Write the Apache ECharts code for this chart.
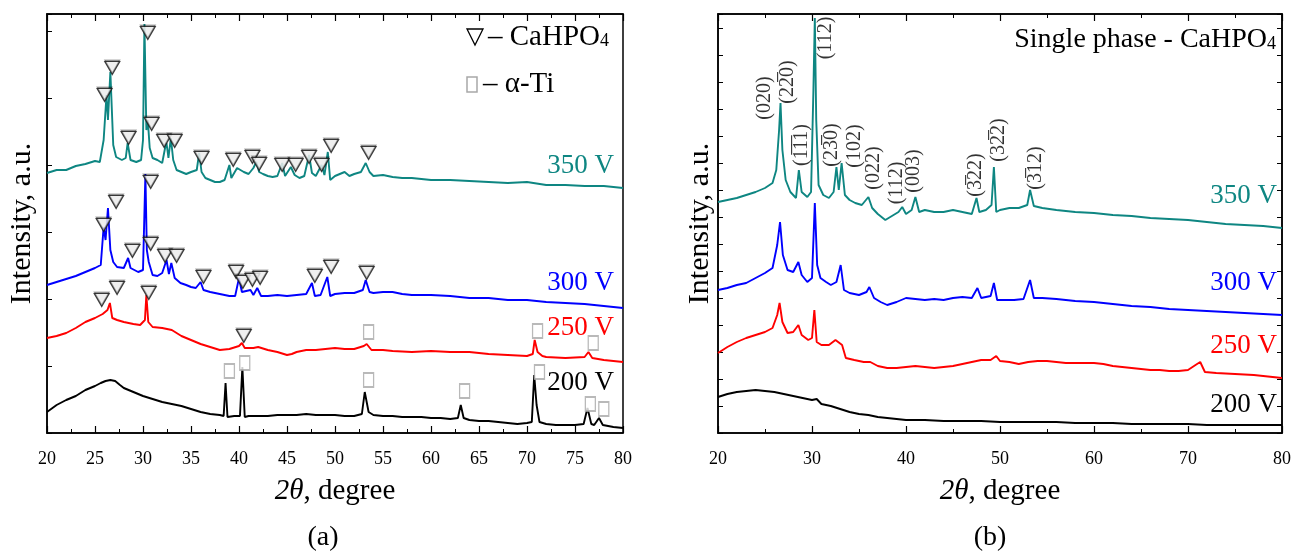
<!DOCTYPE html>
<html><head><meta charset="utf-8">
<script src="https://cdn.jsdelivr.net/npm/echarts@6/dist/echarts.min.js"></script>
<style>html,body{margin:0;padding:0;background:#fff}#c{width:1299px;height:553px}</style>
</head><body><div id="c"></div><script>
// ---------- Panel (a) : XRD patterns, [2theta, intensity (offset, a.u.)] ----------
var a350 = [[20,260],[21,263],[22,263],[23,267],[24,269],[25,272],[25.5,271],[25.9,293],[26.2,338],[26.35,313],[26.6,361],[26.9,288],[27.2,276],[27.8,273],[28.2,275],[28.4,290],[28.7,273],[29.3,271],[29.8,273],[30.0,293],[30.15,409],[30.35,303],[30.5,313],[30.7,285],[31.0,275],[31.5,273],[32.0,270],[32.3,285],[32.45,290],[32.65,275],[32.9,295],[33.15,273],[33.5,263],[34,261],[34.5,259],[35,261],[35.6,263],[35.85,280],[36.1,261],[36.5,255],[37,253],[37.5,251],[38,251],[38.5,253],[39.0,268],[39.2,255],[39.8,265],[40,263],[40.5,261],[41,259],[41.5,265],[41.8,271],[42.1,261],[42.5,259],[43,257],[43.5,256],[44,257],[44.5,270],[44.8,257],[45.4,266],[45.8,258],[46.3,255],[46.8,257],[47.3,278],[47.6,260],[48,257],[48.6,268],[48.9,258],[49.25,281],[49.5,253],[50,257],[50.5,259],[51,261],[51.5,257],[52,259],[52.7,261],[53.2,270],[53.6,261],[54,257],[55,258],[56,256],[57,255],[58,255],[59,254],[60,253],[62,253],[64,252],[66,251],[68,250],[70,251],[72,248],[74,248],[76,247],[78,247],[80,245]];
var a300 = [[20,148],[21,151],[22,154],[23,157],[24,161],[25,165],[25.6,168],[25.9,206],[26.1,193],[26.35,225],[26.6,183],[26.9,171],[27.3,166],[28,165],[28.45,175],[28.7,165],[29.5,161],[30.0,163],[30.25,259],[30.4,183],[30.6,171],[31.0,158],[31.5,157],[32.0,160],[32.45,173],[32.7,159],[32.95,170],[33.3,155],[33.9,150],[34.5,148],[35,146],[35.5,145],[36.0,151],[36.3,143],[37,141],[38,139],[39,137],[39.6,137],[40.0,155],[40.3,141],[41.2,143],[41.5,138],[41.9,145],[42.3,137],[43,137],[44,138],[45,137],[46,138],[47,139],[47.6,150],[47.9,137],[48.5,138],[49.2,156],[49.5,137],[50,139],[51,140],[52,140],[52.9,143],[53.2,153],[53.6,141],[54,140],[55,141],[56,141],[57,139],[58,138],[60,138],[62,137],[64,135],[66,135],[68,133],[70,133],[72,131],[74,130],[76,129],[78,127],[80,125]];
var a250 = [[20,95],[21,97],[22,100],[23,105],[24,111],[25,115],[25.8,119],[26.3,123],[26.55,130],[26.8,115],[27.3,113],[28,111],[29,109],[29.7,108],[30.2,113],[30.35,138],[30.55,111],[31,106],[32,105],[33,103],[34,97],[35,93],[36,89],[37,86],[38,83],[39,84],[40.0,87],[40.3,90],[40.6,85],[41.5,85],[42,86],[43,83],[44,81],[45,78],[45.5,79],[46,81],[47,83],[48,83],[49,84],[50,85],[51,84],[52,84],[53,87],[53.3,89],[53.8,83],[55,83],[56,82],[58,81],[60,82],[62,81],[64,81],[66,79],[68,78],[70,77],[70.6,79],[70.8,93],[71.1,81],[71.6,77],[72,76],[74,75],[76,76],[76.4,81],[76.8,75],[78,73],[80,71]];
var a200 = [[20,21],[21,28],[22,33],[23,37],[24,43],[25,47],[25.6,50],[26.1,52],[26.6,53],[27.1,52],[27.6,48],[28,45],[29,41],[30,37],[31,34],[32,31],[33,29],[34,27],[35,24],[36,21],[37,19],[38,18],[38.4,17],[38.6,50],[38.8,16],[39.5,17],[40.1,17],[40.35,66],[40.6,16],[41,17],[42,17],[43,17],[44,18],[45,18],[46,18],[47,19],[48,18],[49,18],[50,18],[51,17],[52,17],[52.8,19],[53.1,41],[53.5,21],[54,18],[55,17],[56,17],[57,16],[58,16],[59,16],[60,15],[61,15],[62,14],[62.8,15],[63.1,28],[63.4,15],[64,13],[65,12],[66,12],[67,11],[68,10],[69,9],[70,10],[70.5,11],[70.75,58],[71.0,28],[71.3,11],[72,9],[73,8],[74,8],[75,8],[75.9,9],[76.3,25],[76.7,9],[77.0,8],[77.5,15],[77.9,8],[79,6],[80,5]];
// phase markers in panel (a)
var triCaHPO4 = [[26.0,338],[26.8,365],[30.5,400],[28.5,295],[30.9,309],[32.2,292],[33.3,292],[36.1,275],[39.4,273],[41.4,276],[42.1,269],[44.5,268],[45.9,268],[47.3,276],[48.6,268],[49.6,287],[53.5,280],
  [25.9,208],[27.2,231],[30.8,251],[28.9,182],[30.8,189],[32.3,177],[33.5,177],[36.3,156],[39.7,161],[40.4,151],[41.4,153],[42.2,155],[47.9,157],[49.6,166],[53.3,160],
  [25.7,133],[27.3,145],[30.6,140],[40.5,97]];
var sqTi = [[53.5,101],[71.1,102],[76.9,90],[39.0,62],[40.6,70],[53.5,53],[63.5,42],[71.3,61],[76.6,29],[78.0,24]];

// ---------- Panel (b) ----------
var b350 = [[20,231],[21,233],[22,235],[23,238],[24,241],[25,245],[25.8,250],[26.2,263],[26.5,303],[26.65,330],[26.85,283],[27.2,253],[27.7,241],[28.3,235],[28.6,263],[28.9,241],[29.5,236],[29.9,241],[30.15,343],[30.3,415],[30.45,313],[30.7,248],[31.2,238],[31.8,235],[32.3,241],[32.6,266],[32.85,243],[33.15,270],[33.5,238],[34,233],[34.6,230],[35.3,228],[36.0,236],[36.4,225],[37,219],[37.8,213],[38.5,217],[39.2,221],[39.6,226],[40,219],[40.6,223],[41.0,236],[41.4,221],[42,223],[43,221],[44,221],[45,223],[46,221],[47,219],[47.5,235],[47.8,221],[48.5,223],[49.1,228],[49.35,266],[49.6,221],[50,223],[51,225],[52,225],[52.9,228],[53.2,243],[53.6,227],[54.5,225],[56,223],[58,221],[60,220],[62,218],[64,217],[66,215],[68,214],[70,213],[72,211],[74,209],[76,208],[78,207],[80,205]];
var b300 = [[20,143],[21,145],[22,148],[23,150],[24,155],[25,160],[25.8,165],[26.3,188],[26.6,211],[26.9,178],[27.4,163],[28,161],[28.55,171],[28.9,158],[29.5,151],[30.0,155],[30.3,230],[30.55,168],[30.9,155],[31.5,151],[32,148],[32.6,151],[33.05,168],[33.4,143],[34,140],[35,138],[35.8,141],[36.1,146],[36.6,135],[37.3,131],[38,128],[39,131],[40,135],[41,134],[42,133],[43,134],[44,133],[45,135],[46,136],[47,135],[47.6,145],[48,135],[49.0,137],[49.35,150],[49.7,133],[50.5,133],[51.5,133],[52.5,134],[53.2,153],[53.6,135],[54.5,135],[56,134],[58,132],[60,131],[62,129],[64,127],[66,126],[68,124],[70,123],[72,122],[74,121],[76,120],[78,119],[80,118]];
var b250 = [[20,80],[21,86],[22,91],[23,95],[24,98],[25,101],[25.8,105],[26.3,118],[26.55,130],[26.85,111],[27.4,100],[28,101],[28.55,108],[28.9,98],[29.6,93],[30.0,95],[30.25,123],[30.5,91],[31,88],[31.8,88],[32.5,93],[33.2,88],[33.6,75],[34.5,73],[35.5,71],[36.2,71],[37,67],[38,65],[39,65],[40,66],[41,67],[42,66],[43,65],[44,66],[45,67],[46,69],[47,71],[48,73],[49,73],[49.6,77],[50,72],[51,71],[52,69],[53,71],[54,72],[55,72],[56,71],[57,70],[58,70],[59,70],[60,70],[61,69],[62,67],[63,66],[64,65],[65,64],[66,63],[67,63],[68,62],[69,62],[70,63],[70.8,68],[71.3,71],[71.8,61],[73,60],[75,59],[77,58],[79,56],[80,55]];
var b200 = [[20,36],[21,39],[22,41],[23,42],[24,43],[25,42],[26,41],[27,39],[28,37],[29,35],[30,33],[30.5,34],[31,29],[32,27],[33,24],[34,21],[35,19],[36,18],[37,16],[38,15],[39,14],[40,13],[42,13],[44,12],[46,12],[48,12],[50,11],[52,11],[54,11],[56,11],[58,10],[60,10],[62,10],[64,9],[66,9],[68,9],[70,9],[72,8],[74,8],[76,8],[78,8],[80,8]];
// Miller indices (label anchors in data coordinates)
var millerText = ['(020)','(22\u03050)','(1\u03051\u03051)','(112)','(23\u03050)','(102)','(022)','(112)','(003)','(3\u030522)','(32\u03052)','(3\u030512)'];
var millerX = [25.0,27.46,28.96,31.5,32.15,34.5,36.6,39.0,40.8,47.4,49.85,53.8];
var millerY = [335,351,288,395,288,287,265,250,262,258,293,265];

// tick labels / series names
var xTicksA = [20,25,30,35,40,45,50,55,60,65,70,75,80];
var xTicksB = [20,30,40,50,60,70,80];
var curveNames = ['350 V','300 V','250 V','200 V'];
var curveColors = ['#0e8682','#0000ff','#ff0000','#000000'];

var FONT = '"Liberation Serif", "Times New Roman", serif';
var chart = echarts.init(document.getElementById('c'), null, {renderer:'canvas'});

function xAx(grid, pos, interval, show) {
  return {type:'value', gridIndex:grid, position:pos, min:20, max:80, interval:interval,
    axisLine:{show:true, onZero:false, lineStyle:{color:'#000', width:1.5}},
    axisTick:{show:true, inside:true, length:7, lineStyle:{color:'#000', width:1.2}},
    minorTick:{show:true, splitNumber:2, length:4, lineStyle:{color:'#000', width:1}},
    splitLine:{show:false},
    axisLabel:{show:show, color:'#000', fontFamily:FONT, fontSize:18, margin:17},
    name: show ? '{i|2\u03B8}, degree' : '', nameLocation:'middle', nameGap:44,
    nameTextStyle:{color:'#000', fontFamily:FONT, fontSize:29, rich:{i:{fontStyle:'italic', fontFamily:FONT, fontSize:29, color:'#000'}}}
  };
}
function yAx(grid, pos, interval, name, gap) {
  return {type:'value', gridIndex:grid, position:pos, min:0, max:419, interval:interval,
    axisLine:{show:true, onZero:false, lineStyle:{color:'#000', width:1.5}},
    axisTick:{show:true, inside:true, length:5, lineStyle:{color:'#000', width:1}},
    axisLabel:{show:false}, splitLine:{show:false},
    name:name, nameLocation:'middle', nameGap:gap, nameRotate:90,
    nameTextStyle:{color:'#000', fontFamily:FONT, fontSize:30}
  };
}
function line(data, color, xi, yi) {
  return {type:'line', data:data, xAxisIndex:xi, yAxisIndex:yi, showSymbol:false, symbol:'none',
    lineStyle:{color:color, width:1.9}, emphasis:{disabled:true}, animation:false, z:2};
}

var series = [
  line(a350, curveColors[0], 0, 0), line(a300, curveColors[1], 0, 0), line(a250, curveColors[2], 0, 0), line(a200, curveColors[3], 0, 0),
  line(b350, curveColors[0], 2, 1), line(b300, curveColors[1], 2, 1), line(b250, curveColors[2], 2, 1), line(b200, curveColors[3], 2, 1),
  {type:'scatter', data:triCaHPO4, xAxisIndex:0, yAxisIndex:0, symbol:'triangle', symbolRotate:180, symbolSize:[15,13],
    itemStyle:{color:'#fff', borderColor:'#111', borderWidth:1.2, shadowColor:'rgba(0,0,0,0.4)', shadowOffsetX:0, shadowOffsetY:-1.5, shadowBlur:0},
    emphasis:{disabled:true}, animation:false, z:5},
  {type:'scatter', data:sqTi, xAxisIndex:0, yAxisIndex:0, symbol:'rect', symbolSize:[10,14],
    itemStyle:{color:'#fff', borderColor:'#a8a8a8', borderWidth:1.5},
    emphasis:{disabled:true}, animation:false, z:5},
  {type:'scatter', xAxisIndex:2, yAxisIndex:1, symbolSize:0,
    data: millerX.map(function(x,i){return [x, millerY[i], millerText[i]];}),
    label:{show:true, position:'inside', rotate:90, color:'#000', fontFamily:FONT, fontSize:20,
      formatter:function(p){return p.data[2];}},
    emphasis:{disabled:true}, animation:false, z:6}
];

var graphics = [
  {type:'polygon', shape:{points:[[467,29],[483,29],[475,45]]}, style:{fill:'#fff', stroke:'#000', lineWidth:1.3}},
  {type:'text', x:488, y:37, style:{text:'\u2013 CaHPO{s|4}', fill:'#000', font:'29px '+FONT, verticalAlign:'middle',
     rich:{s:{fontSize:18, fontFamily:FONT, fill:'#000', padding:[9,0,0,0]}}}},
  {type:'rect', shape:{x:467, y:77, width:10, height:15}, style:{fill:'#fff', stroke:'#a8a8a8', lineWidth:1.5}},
  {type:'text', x:483, y:84, style:{text:'\u2013 \u03B1-Ti', fill:'#000', font:'29px '+FONT, verticalAlign:'middle'}},
  {type:'text', x:1276, y:40, style:{text:'Single phase - CaHPO{s|4}', fill:'#000', font:'28px '+FONT, align:'right', verticalAlign:'middle',
     rich:{s:{fontSize:18, fontFamily:FONT, fill:'#000', padding:[9,0,0,0]}}}},
  {type:'text', x:323, y:538, style:{text:'(a)', fill:'#000', font:'28px '+FONT, align:'center', verticalAlign:'middle'}},
  {type:'text', x:990, y:538, style:{text:'(b)', fill:'#000', font:'28px '+FONT, align:'center', verticalAlign:'middle'}}
];
var labYA = [166,283,328,383], labYB = [196,283,346,405];
for (var i=0;i<4;i++){
  graphics.push({type:'text', x:614, y:labYA[i], style:{text:curveNames[i], fill:curveColors[i], font:'27px '+FONT, align:'right', verticalAlign:'middle'}});
  graphics.push({type:'text', x:1277, y:labYB[i], style:{text:curveNames[i], fill:curveColors[i], font:'27px '+FONT, align:'right', verticalAlign:'middle'}});
}

chart.setOption({
  animation:false,
  backgroundColor:'#fff',
  grid:[
    {left:47, right:676, top:14, bottom:120, show:true, borderColor:'#000', borderWidth:1.5, backgroundColor:'transparent'},
    {left:718, right:17, top:14, bottom:120, show:true, borderColor:'#000', borderWidth:1.5, backgroundColor:'transparent'}
  ],
  xAxis:[ xAx(0,'bottom',5,true), xAx(0,'top',5,false), xAx(1,'bottom',10,true), xAx(1,'top',10,false) ],
  yAxis:[ yAx(0,'left',67,'Intensity, a.u.',10), yAx(1,'left',27,'Intensity, a.u.',3), yAx(1,'right',27,'',0) ],
  series:series,
  graphic:graphics
});
</script></body></html>
